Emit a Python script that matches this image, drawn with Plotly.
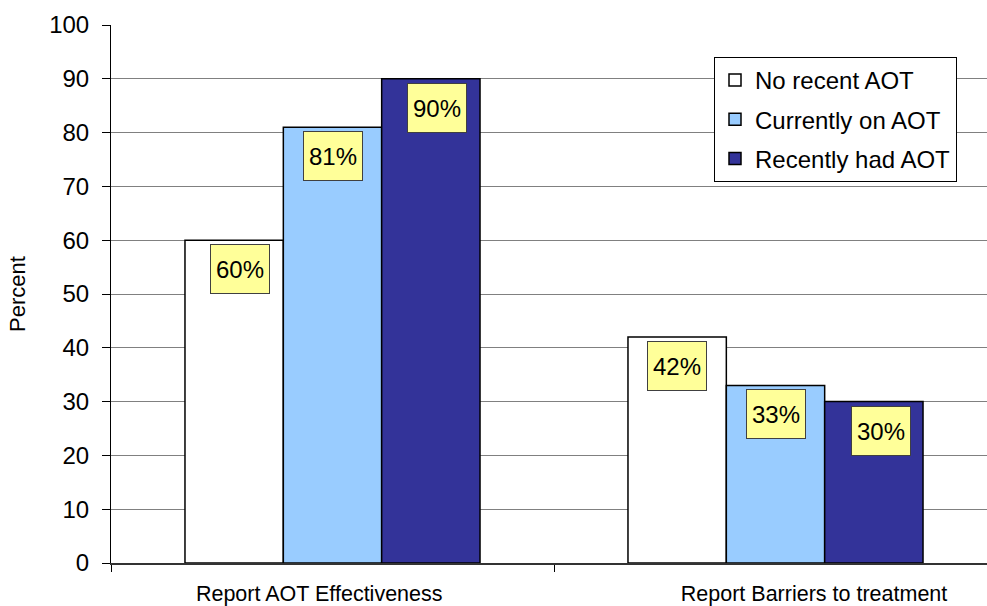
import plotly.graph_objects as go

categories = ["Report AOT Effectiveness", "Report Barriers to treatment"]
series_names = ["No recent AOT", "Currently on AOT", "Recently had AOT"]
series_values = [
    [60, 42],
    [81, 33],
    [90, 30],
]
label_texts = [
    ["60%", "42%"],
    ["81%", "33%"],
    ["90%", "30%"],
]
y_ticks = [0, 10, 20, 30, 40, 50, 60, 70, 80, 90, 100]

# styles
colors = ["#FFFFFF", "#99CCFF", "#333399"]
label_xshift = [[6, 0], [0, 0], [6, 7]]
cat_label_offset = [-0.03, 0.087]   # category-label shift, in category units
FONT = "Liberation Sans, Arial, sans-serif"
BARGAP = 0.334

cat_pos = list(range(len(categories)))

fig = go.Figure()
for i, (name, vals) in enumerate(zip(series_names, series_values)):
    fig.add_trace(go.Bar(
        x=cat_pos, y=vals, name=name,
        legendgroup=name,
        marker=dict(color=colors[i], line=dict(color="#000000", width=1.5)),
    ))

W, H = 987, 606
ml, mr, mt, mb = 111, 0, 25, 43
plot_w = W - ml - mr
plot_h = H - mt - mb

n = len(series_names)
bw = (1 - BARGAP) / n
annotations = []
for i in range(n):
    for j in range(len(categories)):
        xc = cat_pos[j] - (1 - BARGAP) / 2 + bw * (i + 0.5)
        annotations.append(dict(
            x=xc, y=series_values[i][j], xref="x", yref="y",
            text=label_texts[i][j], showarrow=False,
            xanchor="center", yanchor="top", yshift=-4,
            xshift=label_xshift[i][j],
            width=58, height=48, borderpad=0,
            bgcolor="#FFFF99", bordercolor="#404040", borderwidth=1,
            font=dict(family=FONT, size=24, color="#000000"),
        ))

annotations.append(dict(
    x=(17 - ml) / plot_w, y=0.5, xref="paper", yref="paper",
    xanchor="center", yanchor="middle",
    text="Percent", textangle=-90, showarrow=False,
    font=dict(family=FONT, size=22, color="#000000"),
))

unit = 443.0
xmin = -0.5
xmax = xmin + plot_w / unit
boundaries = [p - 0.5 for p in cat_pos] + [cat_pos[-1] + 0.5]

fig.update_layout(
    width=W, height=H,
    margin=dict(l=ml, r=mr, t=mt, b=mb, pad=0),
    paper_bgcolor="#FFFFFF", plot_bgcolor="#FFFFFF",
    font=dict(family=FONT, size=24, color="#000000"),
    barmode="group", bargap=BARGAP, bargroupgap=0,
    showlegend=True,
    legend=dict(
        x=(714 - ml) / plot_w, y=(H - mb - 57) / plot_h,
        xanchor="left", yanchor="top",
        bgcolor="#FFFFFF", bordercolor="#000000", borderwidth=1,
        font=dict(family=FONT, size=24, color="#000000"),
        traceorder="grouped", tracegroupgap=5,
    ),
    annotations=annotations,
)
fig.update_xaxes(
    range=[xmin, xmax], automargin=False,
    tickmode="array",
    tickvals=[p + o for p, o in zip(cat_pos, cat_label_offset)],
    ticktext=categories,
    ticks="", ticklen=7,
    minor=dict(tickmode="array", tickvals=boundaries, ticks="outside",
               ticklen=7, tickcolor="#000000", tickwidth=1, showgrid=False),
    showline=True, linecolor="#333333", linewidth=2,
    showgrid=False, zeroline=False,
    tickfont=dict(family=FONT, size=21.5, color="#000000"),
    ticklabelstandoff=10,
)
fig.update_yaxes(
    range=[0, 100], automargin=False, tickmode="array", tickvals=y_ticks,
    ticks="outside", ticklen=8, tickcolor="#000000",
    showline=True, linecolor="#000000", linewidth=1,
    showgrid=True, gridcolor="#808080", gridwidth=1,
    zeroline=False,
    tickfont=dict(family=FONT, size=24, color="#000000"),
    ticklabelstandoff=8,
)

fig.write_html("out.html", config={"displayModeBar": False},
               post_script="document.body.style.margin='0';")
